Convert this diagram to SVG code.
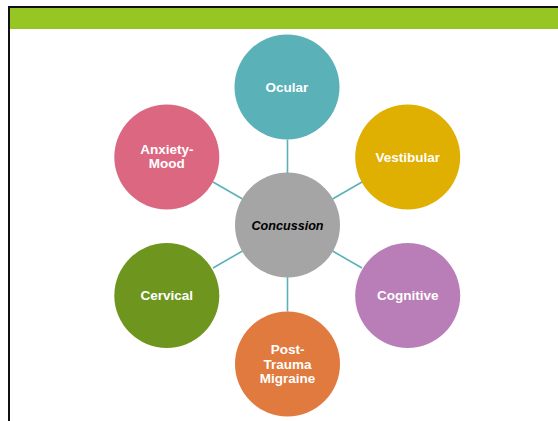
<svg xmlns="http://www.w3.org/2000/svg" width="558" height="421" viewBox="0 0 558 421">
  <style>
    .node-label { font-family: "Liberation Sans", Arial, sans-serif; font-weight: bold; font-size: 13.5px; fill: #ffffff; text-anchor: middle; }
    .hub-label { font-family: "Liberation Sans", Arial, sans-serif; font-weight: bold; font-style: italic; font-size: 12.6px; fill: #000000; text-anchor: middle; }
    .link { stroke: #5AB1B8; stroke-width: 1.6; fill: none; }
  </style>

  <!-- slide frame and title bar -->
  <rect x="0" y="0" width="558" height="421" fill="#ffffff"/>
  <rect x="10" y="8" width="548" height="21" fill="#95C623"/>
  <rect x="8" y="6" width="550" height="2" fill="#111111"/>
  <rect x="8" y="6" width="2" height="415" fill="#111111"/>

  <!-- spokes from the hub to each outer circle -->
  <g id="connectors">
    <line class="link" x1="287.5" y1="173" x2="287.5" y2="139.5"/>
    <line class="link" x1="332.5" y1="199" x2="362" y2="182"/>
    <line class="link" x1="332.5" y1="251" x2="362" y2="268"/>
    <line class="link" x1="287.5" y1="277" x2="287.5" y2="311.5"/>
    <line class="link" x1="242.5" y1="251" x2="213" y2="268"/>
    <line class="link" x1="242.5" y1="199" x2="213" y2="182"/>
  </g>

  <g id="concussion">
    <circle cx="287.5" cy="225" r="52.5" fill="#A5A5A5"/>
    <text class="hub-label" x="287.5" y="229.5">Concussion</text>
  </g>

  <g id="ocular">
    <circle cx="287" cy="87" r="52.5" fill="#5AB1B8"/>
    <text class="node-label" x="287" y="91.8">Ocular</text>
  </g>

  <g id="vestibular">
    <circle cx="407.7" cy="157" r="52.5" fill="#DFAF02"/>
    <text class="node-label" x="407.7" y="161.8">Vestibular</text>
  </g>

  <g id="cognitive">
    <circle cx="407.7" cy="295.5" r="52.5" fill="#B97EB8"/>
    <text class="node-label" x="407.7" y="300.3">Cognitive</text>
  </g>

  <g id="post-trauma-migraine">
    <circle cx="287.5" cy="364" r="52.5" fill="#E07A3E"/>
    <text class="node-label" x="287.5" y="354.3">Post-</text>
    <text class="node-label" x="287.5" y="368.8">Trauma</text>
    <text class="node-label" x="287.5" y="383.3">Migraine</text>
  </g>

  <g id="cervical">
    <circle cx="166.8" cy="295.5" r="52.5" fill="#6E961E"/>
    <text class="node-label" x="166.8" y="300.3">Cervical</text>
  </g>

  <g id="anxiety-mood">
    <circle cx="166.8" cy="157" r="52.5" fill="#DC6781"/>
    <text class="node-label" x="166.8" y="154">Anxiety-</text>
    <text class="node-label" x="166.8" y="168.3">Mood</text>
  </g>
</svg>
